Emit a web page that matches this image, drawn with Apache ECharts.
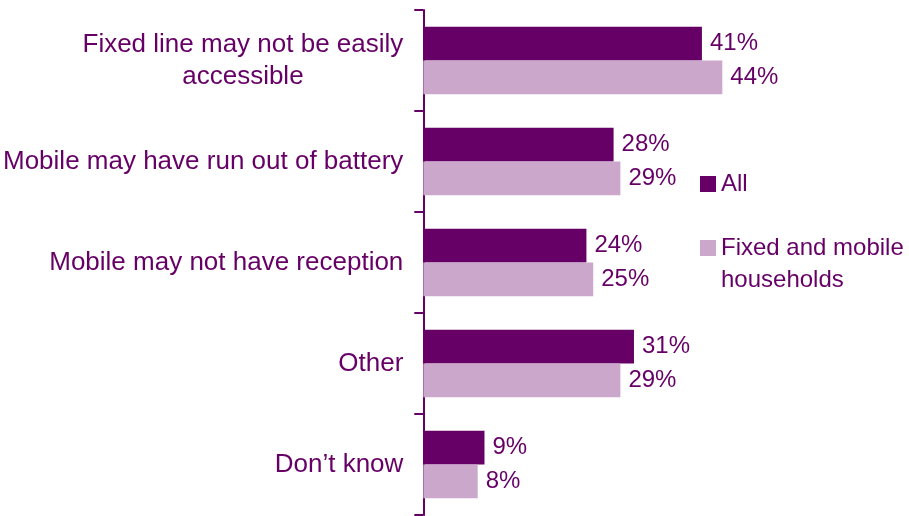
<!DOCTYPE html>
<html>
<head>
<meta charset="utf-8">
<style>
  html, body { margin: 0; padding: 0; background: #ffffff; }
  #chart { width: 909px; height: 516px; }
</style>
<script src="https://cdn.jsdelivr.net/npm/echarts@6/dist/echarts.min.js"></script>
</head>
<body>
<div id="chart"></div>
<script>
// Reasons given, top to bottom
const categories = [
  'Fixed line may not be easily\naccessible',
  'Mobile may have run out of battery',
  'Mobile may not have reception',
  'Other',
  'Don\u2019t know'
];
const seriesNames = ['All', 'Fixed and mobile\nhouseholds'];
const allValues = [41, 28, 24, 31, 9];
const fixedMobileValues = [44, 29, 25, 29, 8];

const purple = '#660066';
const lilac = '#CBA7CB';
const font = "'Liberation Sans', Arial, sans-serif";

const chart = echarts.init(document.getElementById('chart'));

const valueLabel = {
  show: true,
  position: 'right',
  distance: 8,
  formatter: '{c}%',
  color: purple,
  fontFamily: font,
  fontSize: 24
};

chart.setOption({
  animation: false,
  backgroundColor: '#ffffff',
  grid: { left: 423, right: 10, top: 10, bottom: 1, containLabel: false },
  legend: [
    {
      data: [seriesNames[0]],
      orient: 'vertical',
      left: 700,
      top: 170,
      padding: 0,
      icon: 'rect',
      itemWidth: 16,
      itemHeight: 16,
      textStyle: { color: purple, fontFamily: font, fontSize: 24, lineHeight: 28 }
    },
    {
      data: [seriesNames[1]],
      orient: 'vertical',
      left: 700,
      top: 200,
      padding: 0,
      icon: 'rect',
      itemWidth: 16,
      itemHeight: 16,
      // leading blank line keeps the first text line level with the swatch
      formatter: function (name) { return '\n' + name; },
      textStyle: { color: purple, fontFamily: font, fontSize: 24, lineHeight: 32 }
    }
  ],
  xAxis: {
    type: 'value',
    min: 0,
    max: 70,
    show: false
  },
  yAxis: {
    type: 'category',
    inverse: true,
    data: categories,
    axisLine: { show: true, lineStyle: { color: purple, width: 2 } },
    axisTick: { show: true, length: 9, lineStyle: { color: purple, width: 2 } },
    axisLabel: {
      margin: 20,
      color: purple,
      fontFamily: font,
      fontSize: 26,
      lineHeight: 32,
      formatter: function (value) {
        return value.split('\n').map(function (line) { return '{c|' + line + '}'; }).join('\n');
      },
      rich: {
        c: { align: 'center', color: purple, fontFamily: font, fontSize: 26, lineHeight: 32 }
      }
    },
    splitLine: { show: false }
  },
  series: [
    {
      name: seriesNames[0],
      type: 'bar',
      data: allValues,
      itemStyle: { color: purple },
      barGap: '0%',
      barCategoryGap: '33%',
      label: valueLabel
    },
    {
      name: seriesNames[1],
      type: 'bar',
      data: fixedMobileValues,
      itemStyle: { color: lilac },
      barGap: '0%',
      barCategoryGap: '33%',
      label: valueLabel
    }
  ]
});
</script>
</body>
</html>
